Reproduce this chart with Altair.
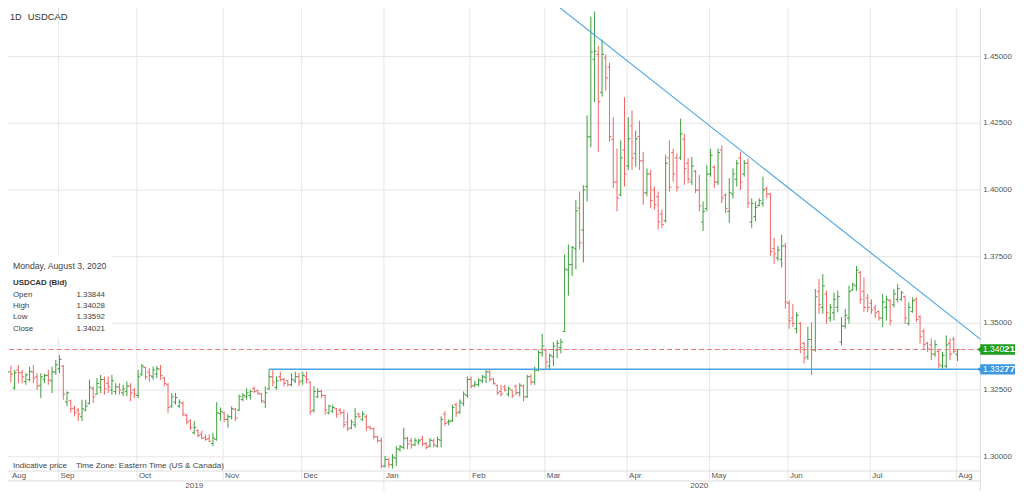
import altair as alt
import pandas as pd

SYMBOL = "USDCAD"
INTERVAL = "1D"
FONT = "Liberation Sans"

# Daily bars (open, high, low, close), month by month
AUG_2019 = [
    (1.3270, 1.3295, 1.3180, 1.3225), (1.3220, 1.3326, 1.3204, 1.3318), (1.3318, 1.3341, 1.3279, 1.3310),
    (1.3258, 1.3326, 1.3251, 1.3315), (1.3325, 1.3344, 1.3276, 1.3315), (1.3315, 1.3326, 1.3276, 1.3300),
    (1.3282, 1.3313, 1.3270, 1.3307), (1.3290, 1.3338, 1.3282, 1.3320), (1.3318, 1.3344, 1.3276, 1.3295),
    (1.3300, 1.3313, 1.3251, 1.3265), (1.3268, 1.3313, 1.3220, 1.3300), (1.3290, 1.3311, 1.3276, 1.3305),
    (1.3305, 1.3326, 1.3270, 1.3288), (1.3285, 1.3338, 1.3239, 1.3318), (1.3318, 1.3363, 1.3307, 1.3345),
]
SEP_2019 = [
    (1.3330, 1.3381, 1.3313, 1.3365), (1.3340, 1.3344, 1.3214, 1.3235), (1.3205, 1.3245, 1.3190, 1.3240),
    (1.3210, 1.3214, 1.3165, 1.3180), (1.3182, 1.3190, 1.3152, 1.3165), (1.3175, 1.3183, 1.3134, 1.3160),
    (1.3150, 1.3214, 1.3134, 1.3180), (1.3175, 1.3214, 1.3171, 1.3190), (1.3200, 1.3289, 1.3196, 1.3260),
    (1.3255, 1.3264, 1.3202, 1.3225), (1.3235, 1.3295, 1.3233, 1.3275), (1.3260, 1.3307, 1.3239, 1.3290),
    (1.3290, 1.3301, 1.3233, 1.3255), (1.3275, 1.3301, 1.3239, 1.3262), (1.3250, 1.3307, 1.3233, 1.3285),
    (1.3245, 1.3276, 1.3233, 1.3262), (1.3262, 1.3276, 1.3233, 1.3250), (1.3240, 1.3270, 1.3227, 1.3255),
    (1.3245, 1.3282, 1.3227, 1.3265), (1.3265, 1.3276, 1.3208, 1.3240), (1.3250, 1.3258, 1.3220, 1.3235),
]
OCT_2019 = [
    (1.3230, 1.3326, 1.3220, 1.3300), (1.3310, 1.3348, 1.3303, 1.3340), (1.3335, 1.3338, 1.3289, 1.3300),
    (1.3318, 1.3332, 1.3282, 1.3305), (1.3300, 1.3338, 1.3289, 1.3325), (1.3310, 1.3341, 1.3295, 1.3330),
    (1.3328, 1.3344, 1.3289, 1.3305), (1.3295, 1.3300, 1.3264, 1.3275), (1.3270, 1.3276, 1.3165, 1.3185),
    (1.3190, 1.3239, 1.3183, 1.3225), (1.3205, 1.3239, 1.3196, 1.3222), (1.3190, 1.3215, 1.3183, 1.3205),
    (1.3200, 1.3208, 1.3152, 1.3160), (1.3155, 1.3160, 1.3121, 1.3130), (1.3135, 1.3140, 1.3100, 1.3110),
    (1.3090, 1.3134, 1.3084, 1.3110), (1.3098, 1.3103, 1.3072, 1.3080), (1.3085, 1.3097, 1.3066, 1.3070),
    (1.3072, 1.3084, 1.3060, 1.3065), (1.3068, 1.3084, 1.3056, 1.3058), (1.3050, 1.3090, 1.3040, 1.3070),
    (1.3065, 1.3205, 1.3060, 1.3165), (1.3162, 1.3185, 1.3135, 1.3170),
]
NOV_2019 = [
    (1.3165, 1.3170, 1.3130, 1.3140), (1.3140, 1.3160, 1.3109, 1.3150), (1.3150, 1.3189, 1.3140, 1.3180),
    (1.3178, 1.3183, 1.3134, 1.3145), (1.3175, 1.3233, 1.3171, 1.3225), (1.3215, 1.3239, 1.3208, 1.3230),
    (1.3225, 1.3257, 1.3214, 1.3240), (1.3230, 1.3251, 1.3214, 1.3245), (1.3255, 1.3264, 1.3239, 1.3245),
    (1.3248, 1.3251, 1.3233, 1.3238), (1.3235, 1.3239, 1.3202, 1.3210), (1.3205, 1.3264, 1.3183, 1.3240),
    (1.3255, 1.33277, 1.3250, 1.3300), (1.3300, 1.3325, 1.3264, 1.3280), (1.3260, 1.3301, 1.3251, 1.3285),
    (1.3300, 1.3319, 1.3282, 1.3290), (1.3290, 1.3295, 1.3264, 1.3275), (1.3285, 1.3288, 1.3264, 1.3270),
    (1.3270, 1.3313, 1.3264, 1.3290), (1.3285, 1.3319, 1.3276, 1.3300), (1.3300, 1.3315, 1.3265, 1.3280),
]
DEC_2019 = [
    (1.3285, 1.3319, 1.3270, 1.3305), (1.3300, 1.3319, 1.3276, 1.3290), (1.3280, 1.3282, 1.3158, 1.3170),
    (1.3175, 1.3264, 1.3165, 1.3245), (1.3225, 1.3257, 1.3220, 1.3245), (1.3245, 1.3251, 1.3220, 1.3230),
    (1.3230, 1.3233, 1.3158, 1.3175), (1.3165, 1.3195, 1.3158, 1.3190), (1.3170, 1.3195, 1.3165, 1.3185),
    (1.3180, 1.3183, 1.3146, 1.3160), (1.3175, 1.3183, 1.3158, 1.3165), (1.3165, 1.3177, 1.3109, 1.3120),
    (1.3130, 1.3165, 1.3097, 1.3105), (1.3108, 1.3140, 1.3103, 1.3130), (1.3120, 1.3183, 1.3109, 1.3150),
    (1.3160, 1.3165, 1.3146, 1.3150), (1.3140, 1.3171, 1.3134, 1.3160), (1.3150, 1.3158, 1.3097, 1.3110),
    (1.3112, 1.3115, 1.3103, 1.3105), (1.3105, 1.3109, 1.3066, 1.3075), (1.3075, 1.3078, 1.3053, 1.3060),
    (1.3060, 1.3072, 1.2956, 1.2965),
]
JAN_2020 = [
    (1.2965, 1.3003, 1.2960, 1.2990), (1.2990, 1.2995, 1.2960, 1.2972), (1.2970, 1.3010, 1.2956, 1.2998),
    (1.2995, 1.3041, 1.2966, 1.3030), (1.3028, 1.3045, 1.3020, 1.3038), (1.3035, 1.3109, 1.3028, 1.3070),
    (1.3068, 1.3075, 1.3028, 1.3048), (1.3060, 1.3071, 1.3030, 1.3045), (1.3045, 1.3071, 1.3040, 1.3062),
    (1.3055, 1.3068, 1.3045, 1.3060), (1.3065, 1.3078, 1.3040, 1.3048), (1.3050, 1.3055, 1.3028, 1.3035),
    (1.3040, 1.3070, 1.3035, 1.3062), (1.3060, 1.3068, 1.3035, 1.3045), (1.3040, 1.3075, 1.3035, 1.3065),
    (1.3062, 1.3152, 1.3035, 1.3140), (1.3160, 1.3171, 1.3115, 1.3125), (1.3130, 1.3140, 1.3118, 1.3132),
    (1.3135, 1.3195, 1.3130, 1.3185), (1.3195, 1.3202, 1.3150, 1.3165), (1.3168, 1.3215, 1.3160, 1.3205),
    (1.3200, 1.3245, 1.3190, 1.3235), (1.3230, 1.3301, 1.3220, 1.3290),
]
FEB_2020 = [
    (1.3290, 1.3301, 1.3257, 1.3265), (1.3268, 1.3285, 1.3260, 1.3272), (1.3270, 1.3294, 1.3263, 1.3288),
    (1.3285, 1.3307, 1.3276, 1.3300), (1.3298, 1.3325, 1.3276, 1.3318), (1.3318, 1.3325, 1.3282, 1.3290),
    (1.3292, 1.3295, 1.3270, 1.3275), (1.3268, 1.3270, 1.3232, 1.3240), (1.3245, 1.3270, 1.3226, 1.3235),
    (1.3262, 1.3270, 1.3245, 1.3250), (1.3235, 1.3263, 1.3226, 1.3255), (1.3250, 1.3251, 1.3220, 1.3230),
    (1.3265, 1.3270, 1.3232, 1.3240), (1.3240, 1.3276, 1.3226, 1.3268), (1.3265, 1.3270, 1.3208, 1.3225),
    (1.3225, 1.3307, 1.3220, 1.3300), (1.3300, 1.3310, 1.3270, 1.3280), (1.3280, 1.3338, 1.3270, 1.3325),
    (1.3325, 1.3400, 1.3320, 1.3390), (1.3390, 1.3461, 1.3375, 1.3415),
]
MAR_2020 = [
    (1.3400, 1.3406, 1.3325, 1.3355), (1.3340, 1.3387, 1.3325, 1.3380), (1.3375, 1.3430, 1.3340, 1.3415),
    (1.3400, 1.3437, 1.3369, 1.3425), (1.3410, 1.3443, 1.3387, 1.3430), (1.3470, 1.3759, 1.3468, 1.3703),
    (1.3700, 1.3796, 1.3604, 1.3720), (1.3720, 1.3790, 1.3678, 1.3785), (1.3780, 1.3963, 1.3703, 1.3922),
    (1.3932, 1.3994, 1.3777, 1.3802), (1.3850, 1.4018, 1.3728, 1.4000), (1.4013, 1.4279, 1.3957, 1.4199),
    (1.4199, 1.4650, 1.4161, 1.4517), (1.4490, 1.4669, 1.4329, 1.4520), (1.4508, 1.4539, 1.4143, 1.4331),
    (1.4366, 1.4564, 1.4350, 1.4508), (1.4495, 1.4508, 1.4372, 1.4420), (1.4460, 1.4477, 1.4180, 1.4200),
    (1.4190, 1.4273, 1.4007, 1.4030), (1.4030, 1.4155, 1.3920, 1.3970), (1.3982, 1.4186, 1.3976, 1.4120),
    (1.4150, 1.4347, 1.4013, 1.4060),
]
APR_2020 = [
    (1.4090, 1.4273, 1.4075, 1.4192), (1.4240, 1.4298, 1.4075, 1.4120), (1.4137, 1.4223, 1.4087, 1.4192),
    (1.4200, 1.4260, 1.4075, 1.4110), (1.4108, 1.4143, 1.3945, 1.3988), (1.3990, 1.4081, 1.3976, 1.4060),
    (1.4060, 1.4075, 1.3932, 1.3960), (1.4000, 1.4013, 1.3926, 1.3945), (1.3975, 1.3994, 1.3852, 1.3880),
    (1.3910, 1.3926, 1.3858, 1.3870), (1.3885, 1.4131, 1.3877, 1.4100), (1.4120, 1.4186, 1.3994, 1.4010),
    (1.4140, 1.4155, 1.4031, 1.4060), (1.4120, 1.4137, 1.3994, 1.4010), (1.4120, 1.4267, 1.4112, 1.4210),
    (1.4190, 1.4211, 1.4019, 1.4080), (1.4100, 1.4118, 1.4025, 1.4040), (1.4030, 1.4124, 1.4019, 1.4090),
    (1.4070, 1.4075, 1.3988, 1.4000), (1.4000, 1.4056, 1.3920, 1.3940), (1.3880, 1.3957, 1.3846, 1.3920),
    (1.3930, 1.4093, 1.3920, 1.4060),
]
MAY_2020 = [
    (1.4060, 1.4155, 1.4050, 1.4130), (1.4085, 1.4093, 1.4007, 1.4030), (1.4030, 1.4155, 1.4019, 1.4140),
    (1.4150, 1.4167, 1.3951, 1.3970), (1.3980, 1.3988, 1.3914, 1.3930), (1.3920, 1.4044, 1.3877, 1.3990),
    (1.3985, 1.4081, 1.3969, 1.4060), (1.4040, 1.4112, 1.4013, 1.4100), (1.4120, 1.4143, 1.4000, 1.4030),
    (1.4060, 1.4112, 1.4050, 1.4100), (1.4100, 1.4118, 1.3932, 1.3950), (1.3880, 1.3969, 1.3858, 1.3950),
    (1.3900, 1.3957, 1.3883, 1.3935), (1.3942, 1.3969, 1.3938, 1.3960), (1.3950, 1.4050, 1.3938, 1.4000),
    (1.4005, 1.4013, 1.3969, 1.3985), (1.3985, 1.3988, 1.3753, 1.3770), (1.3780, 1.3821, 1.3722, 1.3760),
    (1.3745, 1.3790, 1.3734, 1.3775), (1.3740, 1.3833, 1.3709, 1.3790), (1.3790, 1.3802, 1.3555, 1.3580),
]
JUN_2020 = [
    (1.3575, 1.3586, 1.3480, 1.3510), (1.3520, 1.3573, 1.3487, 1.3500), (1.3480, 1.3542, 1.3462, 1.3530),
    (1.3500, 1.3505, 1.3388, 1.3410), (1.3425, 1.3431, 1.3350, 1.3370), (1.3375, 1.3487, 1.3363, 1.3440),
    (1.3440, 1.3505, 1.3307, 1.3400), (1.3400, 1.3629, 1.3394, 1.3600), (1.3620, 1.3666, 1.3536, 1.3570),
    (1.3560, 1.3685, 1.3536, 1.3640), (1.3610, 1.3623, 1.3499, 1.3540), (1.3520, 1.3573, 1.3505, 1.3560),
    (1.3540, 1.3616, 1.3511, 1.3590), (1.3560, 1.3623, 1.3542, 1.3600), (1.3430, 1.3523, 1.3418, 1.3490),
    (1.3490, 1.3554, 1.3480, 1.3530), (1.3520, 1.3641, 1.3499, 1.3620), (1.3625, 1.3653, 1.3622, 1.3645),
    (1.3640, 1.3715, 1.3622, 1.3700), (1.3690, 1.3697, 1.3573, 1.3590), (1.3620, 1.3672, 1.3542, 1.3560),
    (1.3595, 1.3610, 1.3542, 1.3560),
]
JUL_2020 = [
    (1.3575, 1.3590, 1.3536, 1.3550), (1.3558, 1.3570, 1.3520, 1.3540), (1.3545, 1.3548, 1.3511, 1.3520),
    (1.3520, 1.3610, 1.3486, 1.3580), (1.3560, 1.3604, 1.3511, 1.3590), (1.3585, 1.3591, 1.3492, 1.3510),
    (1.3570, 1.3629, 1.3560, 1.3610), (1.3590, 1.3647, 1.3579, 1.3630), (1.3590, 1.3622, 1.3585, 1.3615),
    (1.3600, 1.3604, 1.3499, 1.3520), (1.3500, 1.3579, 1.3492, 1.3560), (1.3545, 1.3598, 1.3540, 1.3585),
    (1.3590, 1.3598, 1.3505, 1.3515), (1.3525, 1.3530, 1.3424, 1.3450), (1.3470, 1.3480, 1.3400, 1.3420),
    (1.3425, 1.3431, 1.3393, 1.3405), (1.3420, 1.3443, 1.3362, 1.3385), (1.3385, 1.3437, 1.3375, 1.3420),
    (1.3395, 1.3400, 1.3331, 1.3345), (1.3340, 1.3393, 1.33277, 1.3380), (1.3340, 1.3455, 1.3331, 1.3420),
    (1.3425, 1.3443, 1.3362, 1.3385), (1.3440, 1.3449, 1.3387, 1.3395),
]
AUG_2020 = [(1.33844, 1.34028, 1.33592, 1.34021)]

PERIODS = [
    ("2019-08-12", "2019-08-30", AUG_2019), ("2019-09-02", "2019-09-30", SEP_2019),
    ("2019-10-01", "2019-10-31", OCT_2019), ("2019-11-01", "2019-11-29", NOV_2019),
    ("2019-12-02", "2019-12-31", DEC_2019), ("2020-01-01", "2020-01-31", JAN_2020),
    ("2020-02-03", "2020-02-28", FEB_2020), ("2020-03-02", "2020-03-31", MAR_2020),
    ("2020-04-01", "2020-04-30", APR_2020), ("2020-05-01", "2020-05-29", MAY_2020),
    ("2020-06-01", "2020-06-30", JUN_2020), ("2020-07-01", "2020-07-31", JUL_2020),
    ("2020-08-03", "2020-08-03", AUG_2020),
]

# Drawn levels / trendline
SUPPORT_LEVEL = 1.33277
SUPPORT_FROM = "2019-11-19"
TREND_X = [147.2, 261.1]          # bar index
TREND_Y = [1.4700, 1.3441]        # price
Y_TICKS = [1.300, 1.325, 1.350, 1.375, 1.400, 1.425, 1.450]
YEAR_LABELS = [("2019", "2019-10-22"), ("2020", "2020-04-28")]

rows = []
for start, end, bars in PERIODS:
    days = pd.bdate_range(start, end)
    assert len(days) == len(bars), (start, len(days), len(bars))
    for d, (o, h, l, c) in zip(days, bars):
        rows.append({"d": d, "o": o, "h": h, "l": l, "c": c})
raw = pd.DataFrame(rows)
raw["i"] = range(len(raw))
raw["month"] = raw["d"].dt.strftime("%Y-%m")
raw["mlabel"] = raw["d"].dt.strftime("%b")
raw["is_jan"] = raw["d"].dt.month == 1
idx_of = {d.strftime("%Y-%m-%d"): i for d, i in zip(raw["d"], raw["i"])}
last = raw.iloc[-1]
df = raw[["i", "o", "h", "l", "c"]].copy()

# layout
W, H = 988, 472
XMIN, XMAX = -0.63, 261.1
YMAX = 1.47
YMIN = YMAX - H / 2692.0
PX = W / (XMAX - XMIN)
LEFT_VISIBLE = XMIN + 9 / PX

GREEN, RED = "#3a9e3a", "#f06262"
BLUE = "#4aa3e2"
GRID = "#e6e6e6"
TXT = "#333333"
AXT = "#555555"

xs = alt.Scale(domain=[XMIN, XMAX], nice=False, zero=False)
ys = alt.Scale(domain=[YMIN, YMAX], nice=False, zero=False)

first = raw.groupby("month").agg(i=("i", "min"), label=("mlabel", "first"),
                                 year_start=("is_jan", "first")).reset_index()
first["pos"] = first["i"] - 0.3
first["lpos"] = first["pos"].clip(lower=LEFT_VISIBLE)
grid_df = first.iloc[1:][["pos", "year_start"]].reset_index(drop=True)
label_df = first[["lpos", "label"]]
year_df = pd.DataFrame({"label": [y for y, _ in YEAR_LABELS], "pos": [idx_of[d] for _, d in YEAR_LABELS]})
ytick_df = pd.DataFrame({"p": Y_TICKS, "t": [f"{v:.5f}" for v in Y_TICKS]})

one = pd.DataFrame({"k": [0]})
color = alt.condition("datum.c >= datum.o", alt.value(GREEN), alt.value(RED))

# price grid + right-hand labels
hgrid = alt.Chart(ytick_df).mark_rule(color=GRID, strokeWidth=1).encode(
    x=alt.value(0), x2=alt.value(W), y=alt.Y("p:Q", scale=ys, axis=None))
ylab = alt.Chart(ytick_df).mark_text(font=FONT, fontSize=8, color=AXT, align="left",
                                     baseline="middle").encode(
    x=alt.value(W + 3), y=alt.Y("p:Q", scale=ys, axis=None), text="t:N")

base = alt.Chart(df)
hl = base.mark_rule(strokeWidth=1).encode(
    x=alt.X("i:Q", scale=xs, axis=None),
    y=alt.Y("l:Q", scale=ys, axis=None), y2="h:Q", color=color)
op = base.transform_calculate(x0="datum.i - 0.55").mark_rule(strokeWidth=1).encode(
    x=alt.X("x0:Q", scale=xs, axis=None), x2="i:Q",
    y=alt.Y("o:Q", scale=ys, axis=None), color=color)
cl = base.transform_calculate(x1="datum.i + 0.55").mark_rule(strokeWidth=1).encode(
    x=alt.X("i:Q", scale=xs, axis=None), x2="x1:Q",
    y=alt.Y("c:Q", scale=ys, axis=None), color=color)

vgrid = alt.Chart(grid_df).mark_rule(color=GRID, strokeWidth=1).encode(
    x=alt.X("pos:Q", scale=xs, axis=None), y=alt.value(0),
    y2=alt.value(H + 10))
ygrid_div = alt.Chart(grid_df).transform_filter("datum.year_start").mark_rule(color=GRID).encode(
    x=alt.X("pos:Q", scale=xs, axis=None), y=alt.value(H + 10), y2=alt.value(H + 20))

frame_b = alt.Chart(one).mark_rule(color="#dddddd").encode(x=alt.value(0), x2=alt.value(W), y=alt.value(H))
frame_m = alt.Chart(one).mark_rule(color="#dddddd").encode(x=alt.value(0), x2=alt.value(W), y=alt.value(H + 10))
frame_r = alt.Chart(one).mark_rule(color="#dddddd").encode(x=alt.value(W), y=alt.value(0), y2=alt.value(H + 20))

lvl = pd.DataFrame({"p": [float(last["c"])]})
dashed = alt.Chart(lvl).mark_rule(color="#f07a7a", strokeWidth=1.1, strokeDash=[5, 3]).encode(
    x=alt.value(0), x2=alt.value(W), y=alt.Y("p:Q", scale=ys, axis=None))

sup = pd.DataFrame({"start": [idx_of[SUPPORT_FROM]], "p": [SUPPORT_LEVEL]})
support = alt.Chart(sup).mark_rule(color=BLUE, strokeWidth=1.5).encode(
    x=alt.X("start:Q", scale=xs, axis=None), x2=alt.value(W), y=alt.Y("p:Q", scale=ys, axis=None))

trend = alt.Chart(pd.DataFrame({"x": TREND_X, "y": TREND_Y})).mark_line(
    color=BLUE, strokeWidth=1.1, clip=True).encode(
    x=alt.X("x:Q", scale=xs, axis=None), y=alt.Y("y:Q", scale=ys, axis=None))

# price tags on the right
TAG = "M-1.75,-0.52 L1.75,-0.52 L1.75,0.52 L-1.75,0.52 L-1.75,0.25 L-2.05,0 L-1.75,-0.25 Z"
tag_vals = [float(last["c"]), SUPPORT_LEVEL]
tags = pd.DataFrame({"p": tag_vals,
                     "head": [f"{v:.5f}"[:-2] for v in tag_vals],
                     "tail": [f"{v:.5f}"[-2:] for v in tag_vals],
                     "col": ["#1f9e1f", "#3a97e0"]})
tag_box = alt.Chart(tags).mark_point(shape=TAG, filled=True, size=400, opacity=1, strokeWidth=0).encode(
    x=alt.value(W + 17.5), y=alt.Y("p:Q", scale=ys, axis=None),
    fill=alt.Color("col:N", scale=None))
tag_head = alt.Chart(tags).mark_text(font=FONT, fontSize=8.5, color="white",
                                     align="right", baseline="middle").encode(
    x=alt.value(W + 24), y=alt.Y("p:Q", scale=ys, axis=None), text="head:N")
tag_tail = alt.Chart(tags).mark_text(font=FONT, fontSize=10, fontWeight="bold", color="white",
                                     align="left", baseline="middle").encode(
    x=alt.value(W + 24), y=alt.Y("p:Q", scale=ys, axis=None), text="tail:N")

month_lbl = alt.Chart(label_df).mark_text(font=FONT, fontSize=8, color=AXT, align="left",
                                         baseline="middle", dx=2).encode(
    x=alt.X("lpos:Q", scale=xs, axis=None), y=alt.value(H + 5.5), text="label:N")
year_lbl = alt.Chart(year_df).mark_text(font=FONT, fontSize=8.2, color=AXT, align="center",
                                       baseline="middle").encode(
    x=alt.X("pos:Q", scale=xs, axis=None), y=alt.value(H + 15.5), text="label:N")


def label(text, x, y, size=8.0, weight="normal", color=TXT):
    return alt.Chart(one).mark_text(font=FONT, fontSize=size, fontWeight=weight, color=color,
                                    align="left", baseline="middle").encode(
        x=alt.value(x), y=alt.value(y), text=alt.value(text))


info_bg = alt.Chart(one).mark_rect(color="white", opacity=0.95).encode(
    x=alt.value(8), x2=alt.value(112), y=alt.value(254), y2=alt.value(338))
ld = last["d"]
day_text = ld.strftime("%A, %B ") + str(ld.day) + ld.strftime(", %Y")
info = [
    info_bg,
    label(day_text, 12, 265, 8.8, color="#444444"),
    label(f"{SYMBOL} (Bid)", 12, 282, 8, "bold"),
]
for k, (name, key) in enumerate([("Open", "o"), ("High", "h"), ("Low", "l"), ("Close", "c")]):
    yy = 294 + k * 11.5
    info.append(label(name, 12, yy, 8, color="#444444"))
    info.append(label(f"{last[key]:.5f}", 76, yy, 8, color="#444444"))

titles = [
    label(INTERVAL, 9, 14, 9.2),
    label(SYMBOL, 27, 14, 9.5),
    label("Indicative price", 12, H - 5, 8.2, color="#444444"),
    label("Time Zone: Eastern Time (US & Canada)", 75.5, H - 5, 8.2, color="#444444"),
]

chart = alt.layer(
    hgrid, vgrid, ygrid_div, frame_b, frame_m, frame_r,
    hl, op, cl,
    dashed, support, trend,
    *info, *titles,
    ylab, tag_box, tag_head, tag_tail, month_lbl, year_lbl,
).properties(
    width=W, height=H,
    padding={"left": -8, "top": -8, "right": 0, "bottom": 0},
    background="white",
).configure_view(stroke=None)

chart.save("out.html", embed_options={"renderer": "svg", "actions": False})
